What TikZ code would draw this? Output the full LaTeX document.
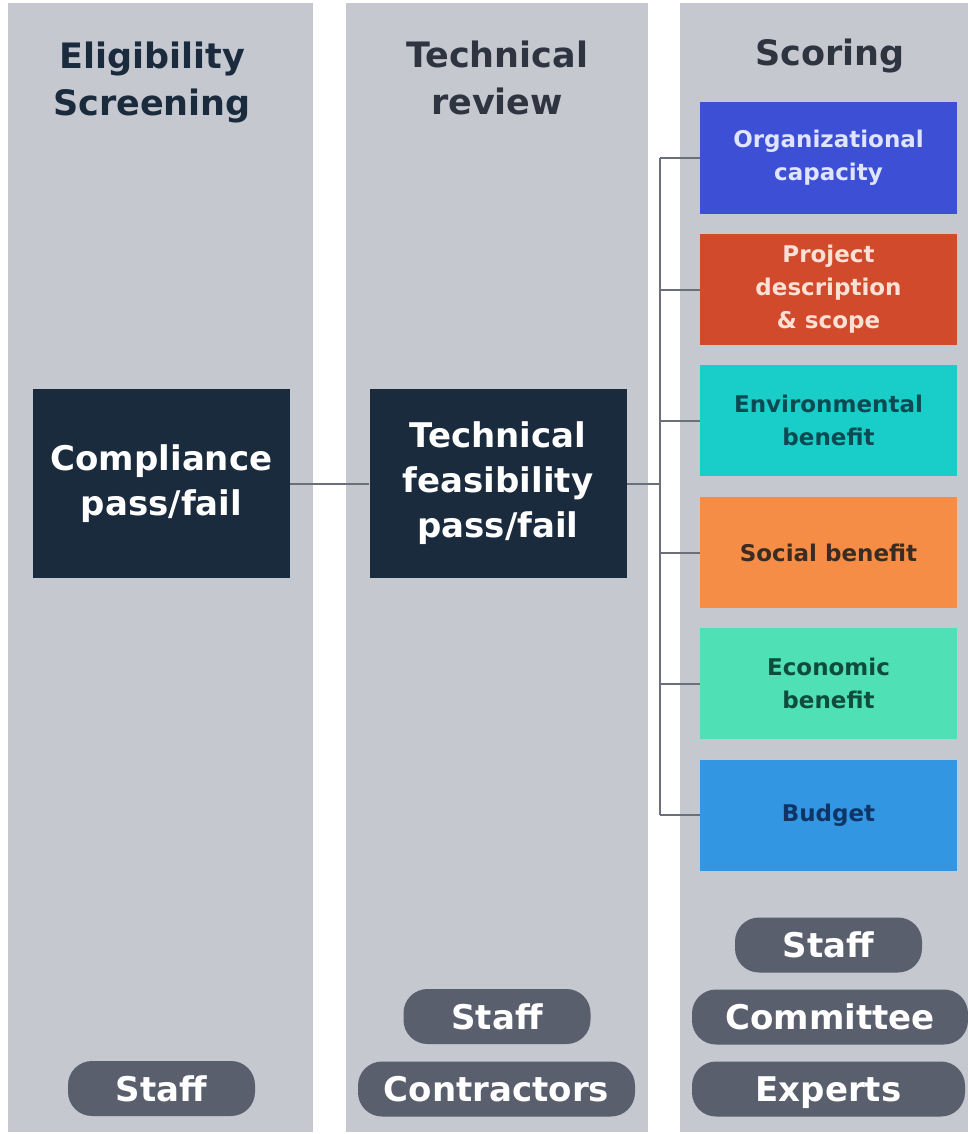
\documentclass[tikz,border=0pt]{standalone}
\usepackage{fontspec}
\setmainfont{DejaVu Sans}
\usepackage{tikz}
\usepackage{xcolor}
\definecolor{lanegray}{HTML}{C6C8D0}
\definecolor{navy}{HTML}{1B2B3E}
\definecolor{headgray}{HTML}{2F3540}
\definecolor{pillgray}{HTML}{5A5F6E}
\definecolor{wire}{HTML}{6B6F7A}
\definecolor{orgfill}{HTML}{3D4FD4}
\definecolor{orgtext}{HTML}{DFE4FF}
\definecolor{projfill}{HTML}{D04A2B}
\definecolor{projtext}{HTML}{FBE0D6}
\definecolor{envfill}{HTML}{19CEC8}
\definecolor{envtext}{HTML}{0B4A52}
\definecolor{socfill}{HTML}{F68D47}
\definecolor{soctext}{HTML}{3B2C22}
\definecolor{ecofill}{HTML}{4FE0B5}
\definecolor{ecotext}{HTML}{0E4C3C}
\definecolor{budfill}{HTML}{3396E2}
\definecolor{budtext}{HTML}{0F3566}

\begin{document}
\begin{tikzpicture}[x=1pt, y=-1pt,
	lane/.style={fill=lanegray, minimum height=1129pt, inner sep=0},
	title/.style={font=\bfseries\fontsize{35}{47}\selectfont, align=center},
	gate/.style={fill=navy, text=white, minimum width=257pt, minimum height=189pt, inner sep=0, align=center, font=\bfseries\fontsize{34}{45}\selectfont},
	crit/.style={minimum width=257pt, minimum height=111pt, inner sep=0, align=center, font=\bfseries\fontsize{23}{33}\selectfont},
	role/.style={fill=pillgray, text=white, rounded corners=24pt, minimum width=187pt, minimum height=55pt, inner sep=0, text height=25pt, text depth=0pt, font=\bfseries\fontsize{34}{34}\selectfont},
	wire/.style={draw=wire, line width=2pt}]
			\useasboundingbox (0, 0) rectangle (968, 1134);
			\node[lane, minimum width=305pt] (lane1) at (160.5, 567.5) {};
			\node[lane, minimum width=302pt] (lane2) at (497, 567.5) {};
			\node[lane, minimum width=288pt] (lane3) at (824, 567.5) {};
			\node[title, text=navy] (head1) at (152, 82) {Eligibility\\Screening};
			\node[title, text=headgray] (head2) at (497, 78) {Technical\\review};
			\node[title, text=headgray] (head3) at (830, 56) {Scoring};
			\node[gate] (comp) at (161.5, 483.5) {Compliance\\pass/fail};
			\node[gate] (tech) at (498, 483.5) {Technical\\feasibility\\pass/fail};
			\node[crit, fill=orgfill, text=orgtext] (org) at (828.5, 158) {Organizational\\capacity};
			\node[crit, fill=projfill, text=projtext] (proj) at (828.5, 289.5) {Project\\description\\\& scope};
			\node[crit, fill=envfill, text=envtext] (env) at (828.5, 420.5) {Environmental\\benefit};
			\node[crit, fill=socfill, text=soctext] (soc) at (828.5, 552.5) {Social benefit};
			\node[crit, fill=ecofill, text=ecotext] (eco) at (828.5, 683.5) {Economic\\benefit};
			\node[crit, fill=budfill, text=budtext] (bud) at (828.5, 815) {Budget};
			\coordinate (bus) at (660, 483.5);
			\draw[wire] (comp) -- (tech);
			\draw[wire] (tech) -- (bus);
			\draw[wire] (org.west -| bus) -- (bud.west -| bus);
			\foreach \c in {org, proj, env, soc, eco, bud}
				\draw[wire] (\c.west -| bus) -- (\c.west);
			\node[role] (staff1) at (161.5, 1088.5) {Staff};
			\node[role] (staff2) at (497, 1016.5) {Staff};
			\node[role, minimum width=277pt] (contr) at (496.5, 1089) {Contractors};
			\node[role] (staff3) at (828.5, 945) {Staff};
			\node[role, minimum width=276pt] (comm) at (830, 1017) {Committee};
			\node[role, minimum width=273pt] (expert) at (828.5, 1089) {Experts};
		\end{tikzpicture}
\end{document}
